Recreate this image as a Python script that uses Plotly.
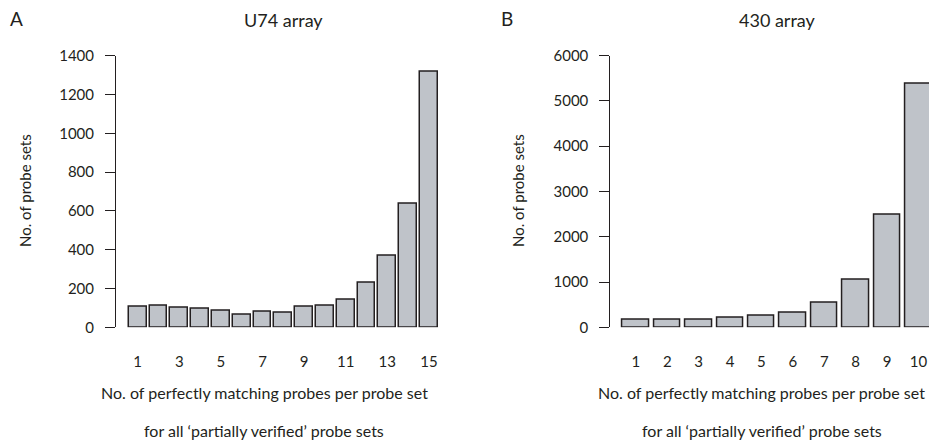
import plotly.graph_objects as go

# ---- data ----
u74_categories = list(range(1, 16))
u74_counts = [106, 111, 103, 96, 88, 67, 82, 75, 108, 111, 144, 232, 371, 639, 1315]
u74_ticks = [1, 3, 5, 7, 9, 11, 13, 15]

a430_categories = list(range(1, 11))
a430_counts = [160, 176, 176, 213, 265, 331, 552, 1045, 2481, 5390]
a430_ticks = list(range(1, 11))

panel_titles = ["U74 array", "430 array"]
panel_letters = ["A", "B"]
ylabel = "No. of probe sets"
xlabel1 = "No. of perfectly matching probes per probe set"
xlabel2 = "for all \u2018partially verified\u2019 probe sets"

W, H = 929, 441
FONT = "Lato"
TXT = "#231f20"
FILL = "#bfc3c9"
EDGE = "#231f20"

def px(x):
    return x / W

def py(y):
    return 1 - y / H

fig = go.Figure()

fig.add_trace(go.Bar(x=u74_categories, y=u74_counts, width=0.85,
                     marker=dict(color=FILL, line=dict(color=EDGE, width=1.5)),
                     xaxis="x", yaxis="y", showlegend=False))
fig.add_trace(go.Bar(x=a430_categories, y=a430_counts, width=0.84,
                     marker=dict(color=FILL, line=dict(color=EDGE, width=1.5)),
                     xaxis="x2", yaxis="y2", showlegend=False))

# pixel geometry of the two plot regions
y0_px, ytop_px = 327.3, 55.7
L_axis, L_c1, L_pitch, L_right = 116.0, 137.7, 20.8, 445.0
R_axis, R_c1, R_pitch, R_right = 610.3, 635.85, 31.4, 929.0

def xrange(axis, c1, pitch, right):
    return [1 - (c1 - axis) / pitch, 1 + (right - c1) / pitch]

ydom = [py(y0_px), py(ytop_px)]

common_x = dict(showline=False, showgrid=False, zeroline=False, ticks="outside",
                ticklen=21, tickcolor="rgba(0,0,0,0)", tickmode="array",
                automargin=False,
                tickfont=dict(family=FONT, size=15, color=TXT), fixedrange=True)
common_y = dict(showline=True, linecolor=EDGE, linewidth=1, showgrid=False,
                zeroline=False, ticks="outside", ticklen=10, tickwidth=1,
                automargin=False,
                tickcolor=EDGE, tickfont=dict(family=FONT, size=15, color=TXT),
                ticklabelstandoff=8, fixedrange=True)

fig.update_layout(
    template="none",
    width=W, height=H,
    autosize=False,
    margin=dict(l=0, r=0, t=0, b=0, pad=0, autoexpand=False),
    paper_bgcolor="white", plot_bgcolor="white",
    bargap=0,
    xaxis=dict(domain=[px(L_axis), px(L_right)],
               range=xrange(L_axis, L_c1, L_pitch, L_right),
               tickvals=u74_ticks, ticktext=[str(t) for t in u74_ticks], **common_x),
    yaxis=dict(domain=ydom, range=[0, 1400], tickvals=list(range(0, 1401, 200)),
               anchor="x", **common_y),
    xaxis2=dict(domain=[px(R_axis), px(R_right)],
                range=xrange(R_axis, R_c1, R_pitch, R_right),
                tickvals=a430_ticks, ticktext=[str(t) for t in a430_ticks],
                anchor="y2", **common_x),
    yaxis2=dict(domain=ydom, range=[0, 6000], tickvals=list(range(0, 6001, 1000)),
                anchor="x2", **common_y),
)

def ann(text, x, y, size, angle=0):
    fig.add_annotation(text=text, x=px(x), y=py(y), xref="paper", yref="paper",
                       showarrow=False, xanchor="center", yanchor="middle",
                       textangle=angle, font=dict(family=FONT, size=size, color=TXT))

# left panel texts
ann(panel_letters[0], 16.5, 18.5, 19)
ann(panel_titles[0], 283, 20, 18)
ann(ylabel, 25, 191, 15, -90)
ann(xlabel1, 264, 392, 16)
ann(xlabel2, 264, 430, 16)

# right panel texts
ann(panel_letters[1], 507, 18.5, 19)
ann(panel_titles[1], 777, 20, 18)
ann(ylabel, 518, 191, 15, -90)
ann(xlabel1, 761.5, 392, 16)
ann(xlabel2, 761.5, 430, 16)

fig.write_html("out.html", config={"displayModeBar": False},
               post_script="document.body.style.margin='0px';"
                           "document.body.style.overflow='hidden';")
